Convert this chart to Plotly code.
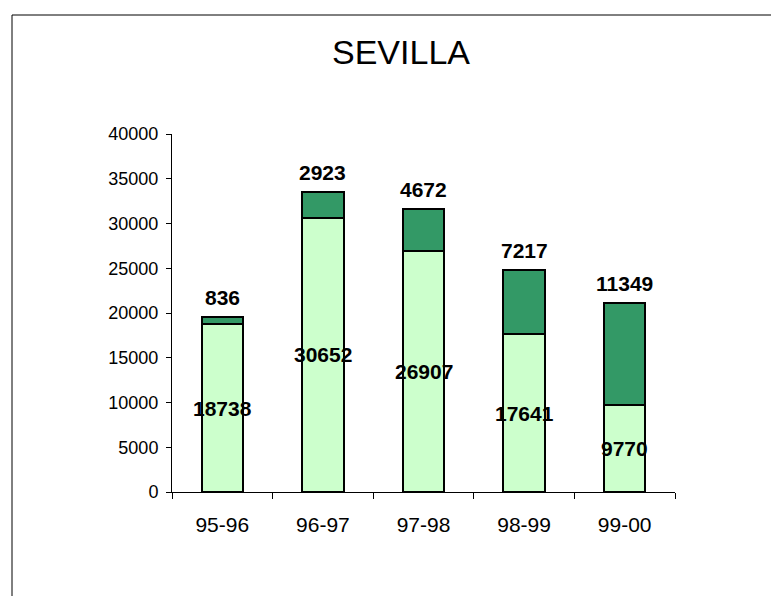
import plotly.graph_objects as go

categories = ["95-96", "96-97", "97-98", "98-99", "99-00"]
bottom_values = [18738, 30652, 26907, 17641, 9770]
top_values = [836, 2923, 4672, 7217, 11349]
y_ticks = [0, 5000, 10000, 15000, 20000, 25000, 30000, 35000, 40000]

FONT = "Liberation Sans, Arial, sans-serif"
LIGHT = "#CCFFCC"
DARK = "#339966"

fig = go.Figure()
fig.add_trace(go.Bar(x=categories, y=bottom_values, marker=dict(color=LIGHT, line=dict(color="black", width=2)),
                     width=0.41, hoverinfo="x+y", showlegend=False))
fig.add_trace(go.Bar(x=categories, y=top_values, marker=dict(color=DARK, line=dict(color="black", width=2)),
                     width=0.41, hoverinfo="x+y", showlegend=False))

annotations = []
for c, b, t in zip(categories, bottom_values, top_values):
    annotations.append(dict(x=c, y=b / 2, xref="x", yref="y", text=f"<b>{b}</b>", showarrow=False,
                            yanchor="middle", font=dict(family=FONT, size=21, color="black")))
    annotations.append(dict(x=c, y=b + t, xref="x", yref="y", text=f"<b>{t}</b>", showarrow=False,
                            yanchor="bottom", yshift=6, font=dict(family=FONT, size=21, color="black")))

# page is offset by the default 8px body margin
OFF = 8
W, H = 779 - OFF, 596 - OFF
L = 172 - OFF
T = 134 - OFF
R = W - (675 - OFF)
B = H - (492 - OFF)
pw, ph = W - L - R, H - T - B

fig.update_layout(
    width=W, height=H,
    margin=dict(l=L, r=R, t=T, b=B, pad=0),
    paper_bgcolor="white", plot_bgcolor="white",
    barmode="stack", bargap=0.59,
    font=dict(family=FONT, color="black"),
    title=dict(text="SEVILLA", x=(401 - OFF) / W, xanchor="center", y=1 - (52 - OFF) / H, yanchor="middle",
               xref="container", yref="container", font=dict(family=FONT, size=34, color="black")),
    xaxis=dict(type="category", range=[-0.5, 4.5], showline=True, linecolor="black", linewidth=1,
               ticks="outside", ticklen=6, tickcolor="black", tickson="boundaries",
               tickfont=dict(family=FONT, size=21, color="black"), showgrid=False, zeroline=False,
               ticklabelstandoff=14),
    yaxis=dict(range=[0, 40000], tickvals=y_ticks, ticktext=[str(v) for v in y_ticks],
               showline=True, linecolor="black", linewidth=1, ticks="outside", ticklen=5,
               tickcolor="black", tickfont=dict(family=FONT, size=18, color="black"),
               showgrid=False, zeroline=False, ticklabelstandoff=4),
    annotations=annotations,
    shapes=[dict(type="rect", xref="paper", yref="paper",
                 x0=(12 - OFF - L) / pw, x1=(777 - OFF - L) / pw,
                 y0=(H - B - (605 - OFF)) / ph, y1=(H - B - (15 - OFF)) / ph,
                 line=dict(color="black", width=1), fillcolor="rgba(0,0,0,0)", layer="below")],
)

fig.write_html("out.html")
